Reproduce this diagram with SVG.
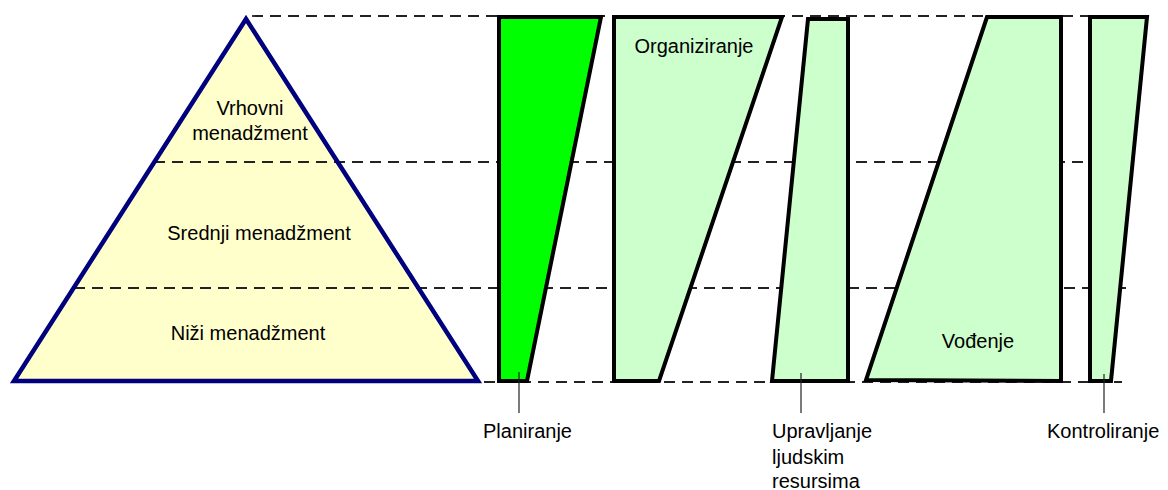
<svg xmlns="http://www.w3.org/2000/svg" width="1168" height="490" viewBox="0 0 1168 490">
<style>
  .lbl{font-family:"Liberation Sans",Arial,sans-serif;font-size:20px;fill:#000}
  .mid{text-anchor:middle}
  .dash{stroke:#222;stroke-width:1.8;stroke-dasharray:11 7;fill:none}
  .box{stroke:#000;stroke-width:4;stroke-linejoin:miter}
  .light{fill:#ccffcc}
  .lead{stroke:#222;stroke-width:1.2;fill:none}
</style>
<rect width="1168" height="490" fill="#fff"/>
<g id="pyramid">
  <polygon points="246,19 14,381 478,381" fill="#ffffcc"/>
</g>
<g id="levels">
  <line class="dash" x1="252" y1="16" x2="1090" y2="16"/>
  <line class="dash" x1="154" y1="162" x2="1090" y2="162"/>
  <line class="dash" x1="74" y1="288" x2="1126" y2="288"/>
  <line class="dash" x1="106" y1="382" x2="1122" y2="382"/>
</g>
<g id="pyramid-outline">
  <polygon points="246,19 14,381 478,381" fill="none" stroke="#00007f" stroke-width="4.5"/>
  <text class="lbl mid" x="250" y="115">Vrhovni</text>
  <text class="lbl mid" x="250" y="140">menadžment</text>
  <text class="lbl mid" x="259" y="240">Srednji menadžment</text>
  <text class="lbl mid" x="248" y="340">Niži menadžment</text>
</g>
<g id="planiranje">
  <polygon class="box" points="499,17 601,17 527,381 499,381" fill="#00ff00"/>
</g>
<g id="organiziranje">
  <polygon class="box light" points="614,17 782,17 659,381 614,381"/>
  <text class="lbl mid" x="694" y="53">Organiziranje</text>
</g>
<g id="upravljanje">
  <polygon class="box light" points="808,19 848,19 848,381 772,381"/>
</g>
<g id="vodenje">
  <polygon class="box light" points="987,17 1061,17 1061,381 866,380"/>
  <text class="lbl mid" x="978" y="348">Vođenje</text>
</g>
<g id="kontroliranje">
  <polygon class="box light" points="1090,17 1147,17 1111,381 1090,381"/>
</g>
<g id="connectors">
  <line class="lead" x1="519" y1="372" x2="519" y2="413"/>
  <line class="lead" x1="801" y1="373" x2="801" y2="413"/>
  <line class="lead" x1="1104" y1="374" x2="1104" y2="413"/>
</g>
<g id="labels">
  <text class="lbl" x="483" y="438">Planiranje</text>
  <text class="lbl" x="772" y="438">Upravljanje</text>
  <text class="lbl" x="772" y="464">ljudskim</text>
  <text class="lbl" x="772" y="488">resursima</text>
  <text class="lbl" x="1047" y="438">Kontroliranje</text>
</g>
</svg>
